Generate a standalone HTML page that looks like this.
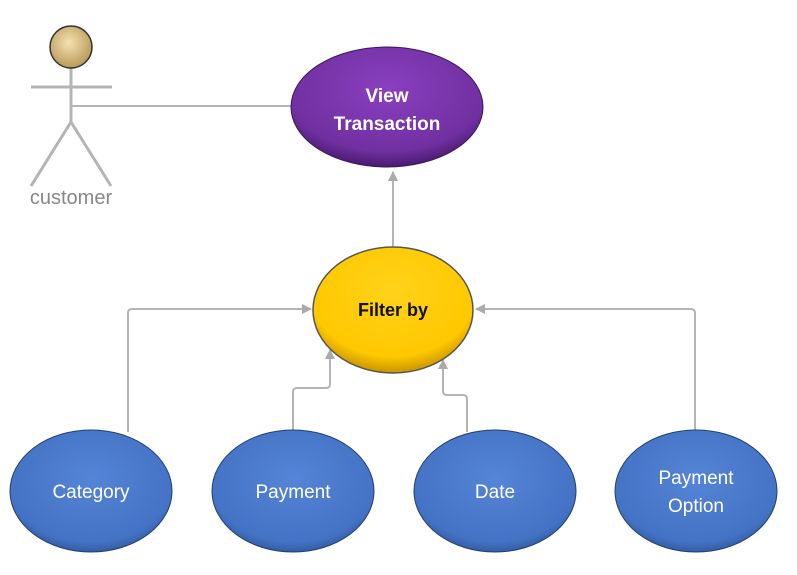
<!DOCTYPE html>
<html><head><style>body{margin:0;background:#fff}</style></head><body>
<svg width="797" height="570" viewBox="0 0 797 570" xmlns="http://www.w3.org/2000/svg" font-family="'Liberation Sans',sans-serif">
<defs>
<radialGradient id="pu" cx="50%" cy="35%" r="65%"><stop offset="0" stop-color="#8a3fc0"/><stop offset="0.8" stop-color="#7030a0"/><stop offset="1" stop-color="#4a1a70"/></radialGradient>
<radialGradient id="ye" cx="50%" cy="35%" r="65%"><stop offset="0" stop-color="#ffd21a"/><stop offset="0.8" stop-color="#ffc800"/><stop offset="1" stop-color="#c89400"/></radialGradient>
<radialGradient id="bl" cx="50%" cy="40%" r="65%"><stop offset="0" stop-color="#5585d6"/><stop offset="0.8" stop-color="#4472c4"/><stop offset="1" stop-color="#2a4f90"/></radialGradient>
<radialGradient id="hd" cx="45%" cy="40%" r="60%"><stop offset="0" stop-color="#f5e2b0"/><stop offset="1" stop-color="#b89a5a"/></radialGradient>
<marker id="ar" markerWidth="10" markerHeight="10" refX="9" refY="5" orient="auto" markerUnits="userSpaceOnUse"><path d="M0,0 L10,5 L0,10 z" fill="#aaa"/></marker>
</defs>
<g stroke="#b4b4b4" stroke-width="3" fill="none">
<line x1="71" y1="68" x2="71" y2="124"/>
<line x1="31" y1="87" x2="112" y2="87"/>
<line x1="71" y1="122" x2="31" y2="186"/>
<line x1="71" y1="122" x2="111" y2="186"/>
</g>
<circle cx="71" cy="47" r="21" fill="url(#hd)" stroke="#333" stroke-width="1.5"/>
<text x="71" y="204" font-size="20" fill="#888" text-anchor="middle">customer</text>
<g stroke="#b4b4b4" stroke-width="2" fill="none">
<line x1="72" y1="106" x2="292" y2="106"/>
<line x1="393" y1="247" x2="393" y2="172" marker-end="url(#ar)"/>
<path d="M128,432 V313 Q128,309 132,309 H311" marker-end="url(#ar)"/>
<path d="M293,430 V392 Q293,388 297,388 H326 Q330,388 330,384 V350" marker-end="url(#ar)"/>
<path d="M467,432 V399 Q467,395 463,395 H447 Q443,395 443,391 V360" marker-end="url(#ar)"/>
<path d="M695,430 V313 Q695,309 691,309 H476" marker-end="url(#ar)"/>
</g>
<ellipse cx="387" cy="107" rx="96" ry="60" fill="url(#pu)" stroke="#3a1858" stroke-width="1"/>
<text x="387" y="102" font-size="19" font-weight="bold" fill="#fff" text-anchor="middle">View</text>
<text x="387" y="130" font-size="19" font-weight="bold" fill="#fff" text-anchor="middle">Transaction</text>
<ellipse cx="393" cy="310" rx="80" ry="63" fill="url(#ye)" stroke="#555" stroke-width="1.5"/>
<text x="393" y="316" font-size="18" font-weight="bold" fill="#111" text-anchor="middle">Filter by</text>
<g stroke="#22406e" stroke-width="1">
<ellipse cx="91" cy="491" rx="81" ry="61" fill="url(#bl)"/>
<ellipse cx="293" cy="491" rx="81" ry="61" fill="url(#bl)"/>
<ellipse cx="495" cy="491" rx="81" ry="61" fill="url(#bl)"/>
<ellipse cx="696" cy="491" rx="81" ry="61" fill="url(#bl)"/>
</g>
<g font-size="19" fill="#fff" text-anchor="middle">
<text x="91" y="498">Category</text>
<text x="293" y="498">Payment</text>
<text x="495" y="498">Date</text>
<text x="696" y="484">Payment</text>
<text x="696" y="512">Option</text>
</g>
</svg>
</body></html>
